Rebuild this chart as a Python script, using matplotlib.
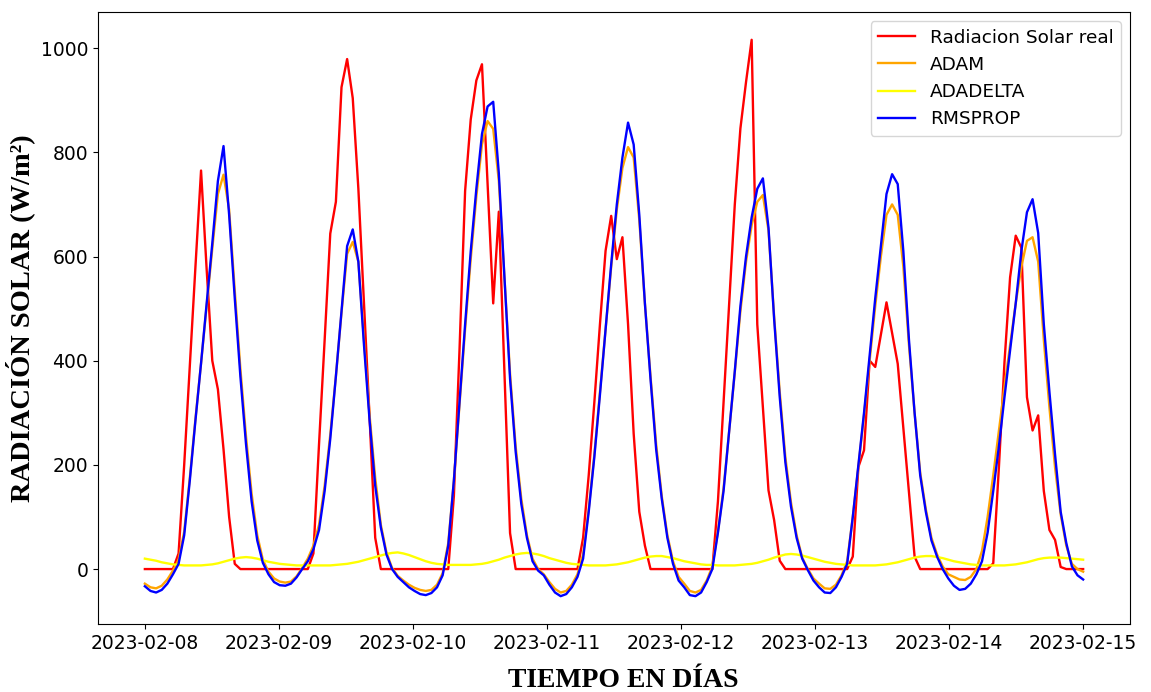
import matplotlib
matplotlib.use("Agg")
import matplotlib.pyplot as plt
import matplotlib.dates as mdates
import pandas as pd

# ---- data (168 samples spread evenly from 2023-02-08 to 2023-02-15) ----
start_date = "2023-02-08"
end_date = "2023-02-15"
n_points = 168

real_solar = [
    0, 0, 0, 0, 0, 0, 30, 200, 390, 580, 765, 575, 400, 345, 230, 100, 10, 0, 0, 0, 0, 0, 0, 0,
    0, 0, 0, 0, 0, 0, 30, 240, 440, 644, 705, 925, 979, 904, 730, 510, 290, 60, 0, 0, 0, 0, 0, 0,
    0, 0, 0, 0, 0, 0, 0, 140, 420, 726, 863, 938, 969, 740, 510, 686, 380, 69, 0, 0, 0, 0, 0, 0,
    0, 0, 0, 0, 0, 0, 60, 180, 320, 470, 611, 678, 595, 637, 470, 260, 110, 45, 0, 0, 0, 0, 0, 0,
    0, 0, 0, 0, 0, 0, 130, 320, 510, 700, 846, 935, 1016, 470, 310, 151, 94, 16, 0, 0, 0, 0, 0, 0,
    0, 0, 0, 0, 0, 0, 24, 196, 228, 400, 388, 450, 512, 453, 394, 270, 147, 24, 0, 0, 0, 0, 0, 0,
    0, 0, 0, 0, 0, 0, 0, 11, 194, 397, 560, 640, 617, 330, 266, 295, 150, 75, 56, 4, 0, 0, 0, 0,
]

adam = [
    -28, -35, -37, -32, -20, -3, 18, 72, 175, 288, 395, 505, 615, 720, 757, 690, 535, 385, 255, 145, 65, 18, -5, -18,
    -24, -26, -24, -14, 2, 20, 45, 85, 160, 258, 370, 492, 605, 628, 590, 440, 295, 175, 85, 32, 2, -13, -22, -30,
    -36, -40, -42, -40, -30, -8, 50, 170, 315, 460, 595, 715, 815, 860, 845, 745, 560, 375, 235, 135, 65, 20, 0, -10,
    -25, -38, -45, -42, -30, -10, 28, 115, 220, 340, 460, 580, 690, 770, 810, 790, 670, 510, 370, 240, 140, 65, 15, -15,
    -28, -42, -45, -40, -22, 5, 72, 155, 265, 378, 495, 590, 660, 705, 718, 650, 485, 340, 215, 128, 65, 22, 0, -18,
    -28, -37, -38, -30, -12, 15, 100, 198, 295, 400, 505, 600, 680, 700, 680, 580, 430, 300, 185, 115, 60, 28, 5, -10,
    -15, -20, -21, -15, 0, 35, 100, 180, 265, 350, 430, 510, 580, 630, 637, 590, 440, 310, 195, 105, 45, 10, 0, -5,
]

adadelta = [
    20, 18, 16, 13, 11, 9, 8, 7, 7, 7, 7, 8, 9, 11, 14, 17, 20, 22, 23, 22, 20, 17, 14, 12,
    10, 9, 8, 7, 7, 7, 7, 7, 7, 7, 8, 9, 10, 12, 14, 17, 20, 23, 26, 29, 31, 32, 30, 27,
    23, 19, 15, 12, 10, 9, 8, 8, 8, 8, 8, 9, 10, 12, 15, 18, 22, 25, 28, 30, 31, 30, 28, 25,
    21, 18, 15, 12, 10, 9, 8, 7, 7, 7, 7, 8, 9, 11, 13, 16, 19, 22, 24, 25, 25, 23, 21, 18,
    15, 13, 11, 9, 8, 8, 7, 7, 7, 7, 8, 9, 10, 12, 15, 18, 22, 25, 28, 29, 28, 26, 23, 20,
    17, 14, 12, 10, 9, 8, 7, 7, 7, 7, 7, 8, 9, 11, 13, 16, 19, 22, 24, 25, 25, 23, 21, 18,
    15, 13, 11, 9, 8, 7, 7, 7, 7, 7, 8, 9, 11, 13, 16, 19, 21, 22, 22, 22, 21, 20, 19, 18,
]

rmsprop = [
    -33, -42, -45, -40, -28, -10, 10, 65, 170, 285, 395, 510, 625, 745, 812, 680, 520, 370, 240, 130, 55, 12, -10, -25,
    -31, -32, -28, -16, 0, 15, 38, 75, 150, 250, 370, 495, 620, 652, 590, 430, 285, 160, 80, 28, 0, -15, -25, -35,
    -42, -48, -50, -46, -35, -12, 45, 170, 320, 470, 610, 730, 835, 888, 897, 760, 560, 365, 225, 125, 60, 15, -3, -12,
    -30, -45, -52, -48, -35, -15, 20, 110, 215, 335, 460, 585, 700, 790, 857, 815, 680, 510, 365, 230, 135, 60, 10, -22,
    -35, -50, -52, -45, -25, 0, 70, 150, 265, 380, 505, 600, 675, 730, 750, 655, 480, 330, 205, 120, 60, 20, -2, -22,
    -35, -45, -46, -35, -15, 10, 100, 200, 300, 410, 520, 620, 720, 758, 739, 610, 440, 300, 180, 110, 55, 24, 0, -18,
    -32, -40, -38, -28, -10, 15, 70, 150, 235, 330, 420, 510, 610, 685, 710, 645, 470, 340, 220, 110, 50, 5, -12, -20,
]

series_labels = ["Radiacion Solar real", "ADAM", "ADADELTA", "RMSPROP"]
series_colors = ["red", "orange", "yellow", "blue"]

x_label = "TIEMPO EN DÍAS"
y_label = "RADIACIÓN SOLAR (W/m²)"

# ---- plot ----
times = pd.date_range(start_date, end_date, periods=n_points)

fig = plt.figure(figsize=(11.51, 6.92), dpi=100)
ax = fig.add_axes([0.0851, 0.0983, 0.8967, 0.8844])

for vals, lab, col in zip([real_solar, adam, adadelta, rmsprop], series_labels, series_colors):
    ax.plot(times, vals, color=col, linewidth=1.7, label=lab)

ax.xaxis.set_major_locator(mdates.DayLocator())
ax.xaxis.set_major_formatter(mdates.DateFormatter("%Y-%m-%d"))
ax.tick_params(axis="both", labelsize=13.5)

ax.set_xlabel(x_label, fontfamily="Liberation Serif", fontweight="bold", fontsize=20, labelpad=11)
ax.xaxis.label.set_x(0.509)
ax.set_ylabel(y_label, fontfamily="Liberation Serif", fontweight="bold", fontsize=20.5, labelpad=4)

ax.legend(loc="upper right", fontsize=13.3)

fig.savefig("out.png", dpi=100)
